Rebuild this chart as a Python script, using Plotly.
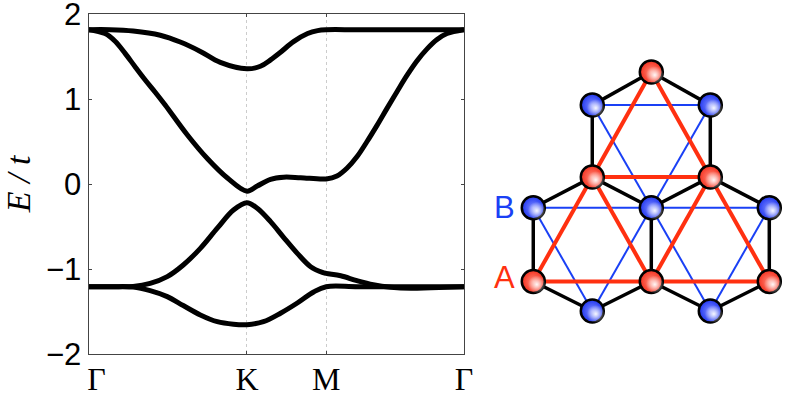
import plotly.graph_objects as go

# band structure along the k path, x in units of Gamma-K
K_POS = 1.0
M_POS = 1.5
END_POS = 2.37
tick_vals = [0, K_POS, M_POS, END_POS]
tick_text = ["\u00a0\u00a0Γ", "K", "M", "Γ"]
y_ticks = [-2, -1, 0, 1, 2]

band1_x = [0, 0.136, 0.282, 0.453, 0.579, 0.706, 0.832, 1, 1.085, 1.149, 1.212, 1.294, 1.383, 1.446, 1.5, 1.7, 2.2, 2.37]
band1_y = [1.815, 1.815, 1.80, 1.75, 1.67, 1.56, 1.43, 1.355, 1.385, 1.46, 1.55, 1.675, 1.77, 1.805, 1.815, 1.815, 1.815, 1.815]

band2_x = [0, 0.104, 0.168, 0.231, 0.294, 0.358, 0.421, 0.484, 0.623, 0.750, 0.877, 1, 1.065, 1.149, 1.231, 1.339, 1.5, 1.568, 1.631,
           1.694, 1.758, 1.821, 1.884, 1.947, 2.011, 2.074, 2.137, 2.200, 2.263, 2.37]
band2_y = [1.815, 1.77, 1.68, 1.537, 1.38, 1.224, 1.08, 0.93, 0.58, 0.30, 0.07, -0.085, -0.024, 0.055, 0.08, 0.074, 0.06, 0.094, 0.185,
           0.32, 0.5, 0.69, 0.89, 1.086, 1.28, 1.45, 1.59, 1.70, 1.77, 1.815]

band3_x = [0, 0.15, 0.282, 0.389, 0.497, 0.598, 0.706, 0.813, 0.915, 1, 1.065, 1.149, 1.231, 1.318, 1.402, 1.476, 1.5,
           1.592, 1.694, 1.797, 1.908, 2.035, 2.161, 2.37]
band3_y = [-1.208, -1.208, -1.205, -1.17, -1.09, -0.953, -0.757, -0.52, -0.306, -0.22, -0.286, -0.443, -0.627, -0.816,
           -0.973, -1.04, -1.052, -1.08, -1.137, -1.185, -1.215, -1.227, -1.22, -1.208]

band4_x = [0, 0.15, 0.282, 0.389, 0.497, 0.598, 0.706, 0.813, 0.915, 1, 1.104, 1.212, 1.318, 1.421, 1.5, 1.7, 2.2, 2.37]
band4_y = [-1.208, -1.208, -1.212, -1.255, -1.325, -1.43, -1.54, -1.62, -1.65, -1.655, -1.62, -1.52, -1.40, -1.27,
           -1.208, -1.208, -1.208, -1.208]

# lattice sites
a_x = [0, 2, 4, 1, 3, 2]
a_y = [0.5, 0.5, 0.5, 2.27, 2.27, 4.05]
b_x = [0, 2, 4, 1, 3, 1, 3]
b_y = [1.75, 1.75, 1.75, 3.49, 3.49, 0, 0]

# bonds as index pairs
nn_bonds = [(5, 3), (5, 4), (3, 3), (4, 4), (3, 0), (3, 1), (4, 1), (4, 2), (0, 0), (1, 1), (2, 2), (0, 5), (1, 5), (1, 6), (2, 6)]
aa_bonds = [(5, 3), (5, 4), (3, 4), (3, 0), (3, 1), (4, 1), (4, 2), (0, 1), (1, 2)]
bb_bonds = [(3, 4), (3, 1), (4, 1), (0, 1), (1, 2), (0, 5), (1, 5), (1, 6), (2, 6)]

BLACK = "#000000"
RED = "#ff3010"
BLUE = "#1a40f5"


def segs(x1, y1, x2, y2, pairs):
    xs, ys = [], []
    for i, j in pairs:
        xs += [x1[i], x2[j], None]
        ys += [y1[i], y2[j], None]
    return xs, ys


def add_line(fig, xs, ys, color, width):
    fig.add_trace(go.Scatter(x=xs, y=ys, mode="lines", line=dict(color=color, width=width),
                             xaxis="x2", yaxis="y2", hoverinfo="skip"))


def add_sites(fig, xs, ys, color, center):
    fig.add_trace(go.Scatter(x=xs, y=ys, mode="markers", xaxis="x2", yaxis="y2", hoverinfo="skip",
                             marker=dict(size=23, color=color, line=dict(color=BLACK, width=2.5),
                                         gradient=dict(type="radial", color=center))))
    # highlight sits low and right of the centre
    fig.add_trace(go.Scatter(x=[v + 0.06 for v in xs], y=[v - 0.05 for v in ys], mode="markers",
                             xaxis="x2", yaxis="y2", hoverinfo="skip",
                             marker=dict(size=18, color="rgba(255,255,255,0)", line=dict(width=0),
                                         gradient=dict(type="radial", color="rgba(255,255,255,0.95)"))))


fig = go.Figure()

for bx, by in [(band1_x, band1_y), (band2_x, band2_y), (band3_x, band3_y), (band4_x, band4_y)]:
    fig.add_trace(go.Scatter(x=bx, y=by, mode="lines", line=dict(color=BLACK, width=5, shape="spline", smoothing=1)))

xs, ys = segs(a_x, a_y, b_x, b_y, nn_bonds)
add_line(fig, xs, ys, BLACK, 3.5)
xs, ys = segs(b_x, b_y, b_x, b_y, bb_bonds)
add_line(fig, xs, ys, BLUE, 2)
xs, ys = segs(a_x, a_y, a_x, a_y, aa_bonds)
add_line(fig, xs, ys, RED, 4)
add_sites(fig, b_x, b_y, "#2036f0", "#7f8cff")
add_sites(fig, a_x, a_y, "#f5301e", "#ff8878")

fig.add_annotation(x=b_x[0] - 0.48, y=b_y[0], xref="x2", yref="y2", text="B", showarrow=False,
                   font=dict(family="Liberation Sans", size=31, color=BLUE))
fig.add_annotation(x=a_x[0] - 0.48, y=a_y[0] + 0.06, xref="x2", yref="y2", text="A", showarrow=False,
                   font=dict(family="Liberation Sans", size=31, color=RED))

fig.update_layout(
    width=789, height=400,
    margin=dict(l=0, r=0, t=0, b=0),
    paper_bgcolor="white", plot_bgcolor="white",
    showlegend=False,
    xaxis=dict(domain=[88.5 / 789, 464 / 789], range=[0, END_POS], tickmode="array", tickvals=tick_vals,
               ticktext=tick_text, ticks="inside", ticklen=3, tickcolor="#444444", automargin=False,
               ticklabeloverflow="allow", ticklabelstandoff=-3,
               tickfont=dict(family="Liberation Serif", size=32, color=BLACK),
               showline=True, linecolor="#444444", linewidth=1, mirror="ticks",
               showgrid=True, gridcolor="#cccccc", griddash="dot", gridwidth=1, zeroline=False),
    yaxis=dict(domain=[46 / 400, 386 / 400], range=[-2, 2], tickmode="array", tickvals=y_ticks,
               ticks="inside", ticklen=3, tickcolor="#444444", automargin=False,
               ticklabeloverflow="allow",
               tickfont=dict(family="Liberation Sans", size=31, color=BLACK),
               showline=True, linecolor="#444444", linewidth=1, mirror="ticks",
               showgrid=False, zeroline=False,
               title=dict(text="<i>E / t</i>", font=dict(family="Liberation Serif", size=34, color=BLACK), standoff=6)),
    xaxis2=dict(domain=[480 / 789, 1], range=[-0.903, 4.334], visible=False),
    yaxis2=dict(domain=[60 / 400, 350 / 400], range=[-0.4915, 4.424], visible=False),
)

# the default page keeps the 8px body margin, which would push the figure off the window
fig.write_html("out.html", config={"displayModeBar": False}, post_script="document.body.style.margin = '0';")
